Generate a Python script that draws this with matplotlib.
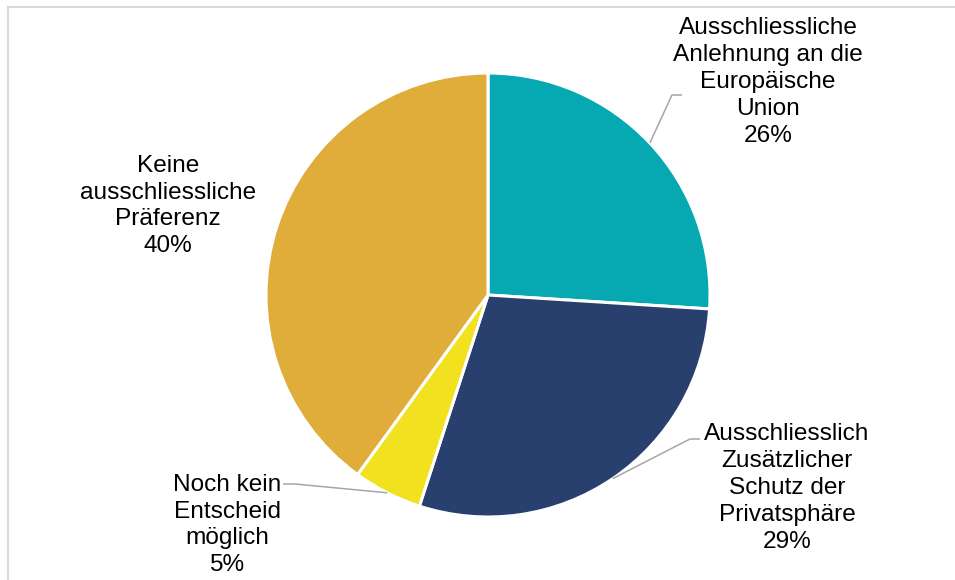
import numpy as np
import matplotlib
matplotlib.use("Agg")
import matplotlib.pyplot as plt
from matplotlib.lines import Line2D

plt.rcParams['font.family'] = ['Liberation Sans', 'DejaVu Sans']

# Data
categories = [
    "Ausschliessliche\nAnlehnung an die\nEuropäische\nUnion",
    "Ausschliesslich\nZusätzlicher\nSchutz der\nPrivatsphäre",
    "Noch kein\nEntscheid\nmöglich",
    "Keine\nausschliessliche\nPräferenz",
]
shares = [26, 29, 5, 40]
colors = ["#06A9B2", "#29406F", "#F1E11F", "#E0AD3B"]

W, H = 955, 580
fig = plt.figure(figsize=(W / 100, H / 100), dpi=100)
ax = fig.add_axes([0, 0, 1, 1])

center = (488, H - 295)
radius = 222
wedges, _ = ax.pie(shares, colors=colors, startangle=90, counterclock=False,
                   center=center, radius=radius,
                   wedgeprops=dict(edgecolor="white", linewidth=2.2))
ax.set_xlim(0, W)
ax.set_ylim(0, H)
ax.axis("off")

# Label placement (text centre, elbow of leader, end of leader) in pixels
label_pos = [(768, H - 82), (787, H - 488), (227, H - 525), (168, H - 206)]
leaders = [
    ((672, H - 95), (682, H - 95)),
    ((690, H - 439), (700, H - 439)),
    ((295, H - 484), (283, H - 484)),
    None,
]

for w, cat, val, pos, ld in zip(wedges, categories, shares, label_pos, leaders):
    ax.text(pos[0], pos[1], f"{cat}\n{val}%", ha="center", va="center",
            multialignment="center", fontsize=17.6, linespacing=1.29, color="black")
    if ld is not None:
        mid = np.deg2rad((w.theta1 + w.theta2) / 2)
        sx = center[0] + radius * np.cos(mid)
        sy = center[1] + radius * np.sin(mid)
        ax.plot([sx, ld[0][0], ld[1][0]], [sy, ld[0][1], ld[1][1]],
                color="#A6A6A6", lw=1.1, solid_capstyle="butt")

# Chart area frame (left and top edges)
fig.add_artist(Line2D([8 / W, 8 / W], [0, 1 - 7 / H], transform=fig.transFigure,
                      color="#D9D9D9", lw=1.5))
fig.add_artist(Line2D([8 / W, 1], [1 - 7 / H, 1 - 7 / H], transform=fig.transFigure,
                      color="#D9D9D9", lw=1.5))

fig.savefig("out.png", dpi=100, facecolor="white")
